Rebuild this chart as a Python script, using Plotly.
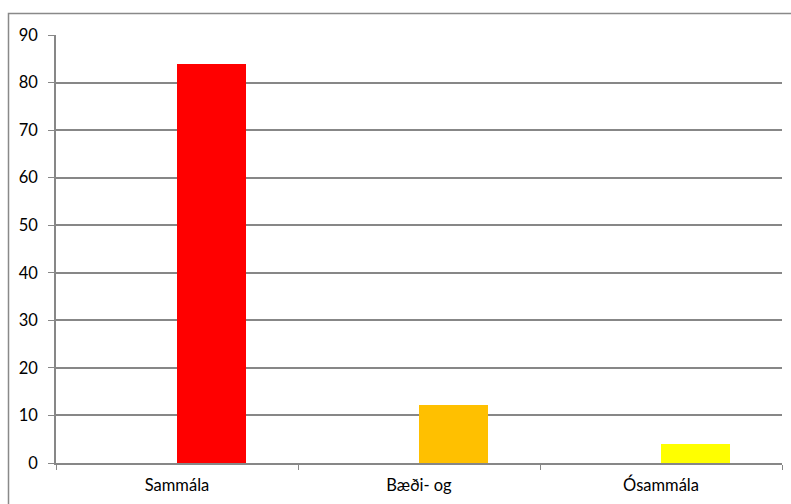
import plotly.graph_objects as go

categories = ["Sammála", "Bæði- og", "Ósammála"]
values = [83.8, 12.1, 4.1]
colors = ["#FF0000", "#FFC000", "#FFFF00"]
y_ticks = [0, 10, 20, 30, 40, 50, 60, 70, 80, 90]

W, H = 791, 504
ML, MR, MT, MB = 56, 9, 35, 41
pw, ph = W - ML - MR, H - MT - MB

fig = go.Figure()
fig.add_trace(go.Bar(
    x=categories, y=values,
    marker=dict(color=colors, line=dict(width=0)),
    width=0.2857, offset=0,
    showlegend=False,
))

grid = "#878787"
font = dict(family="Lato, Noto Sans, sans-serif", size=16.5, color="#000000")

fig.update_layout(
    width=W, height=H,
    margin=dict(l=ML, r=MR, t=MT, b=MB, pad=0),
    paper_bgcolor="white", plot_bgcolor="white",
    font=font,
    bargap=0,
    xaxis=dict(
        type="category", tickson="boundaries",
        ticks="outside", ticklen=5, tickcolor=grid, tickwidth=1,
        showline=True, linecolor=grid, linewidth=1.5,
        showgrid=False, ticklabelstandoff=6,
        tickfont=font,
    ),
    yaxis=dict(
        range=[0, 90], tickvals=y_ticks,
        ticks="outside", ticklen=6, tickcolor=grid, tickwidth=1,
        showline=True, linecolor=grid, linewidth=1.5,
        showgrid=True, gridcolor=grid, gridwidth=1.5,
        zeroline=False, ticklabelstandoff=7,
        tickfont=font,
    ),
    shapes=[dict(
        type="rect", xref="paper", yref="paper",
        x0=(8.5 - ML) / pw, x1=(W + 5 - ML) / pw,
        y0=-0.3, y1=(H - MB - 13.5) / ph,
        line=dict(color="#898989", width=1.5), fillcolor="rgba(0,0,0,0)",
        layer="below",
    )],
)

fig.write_html("out.html")
